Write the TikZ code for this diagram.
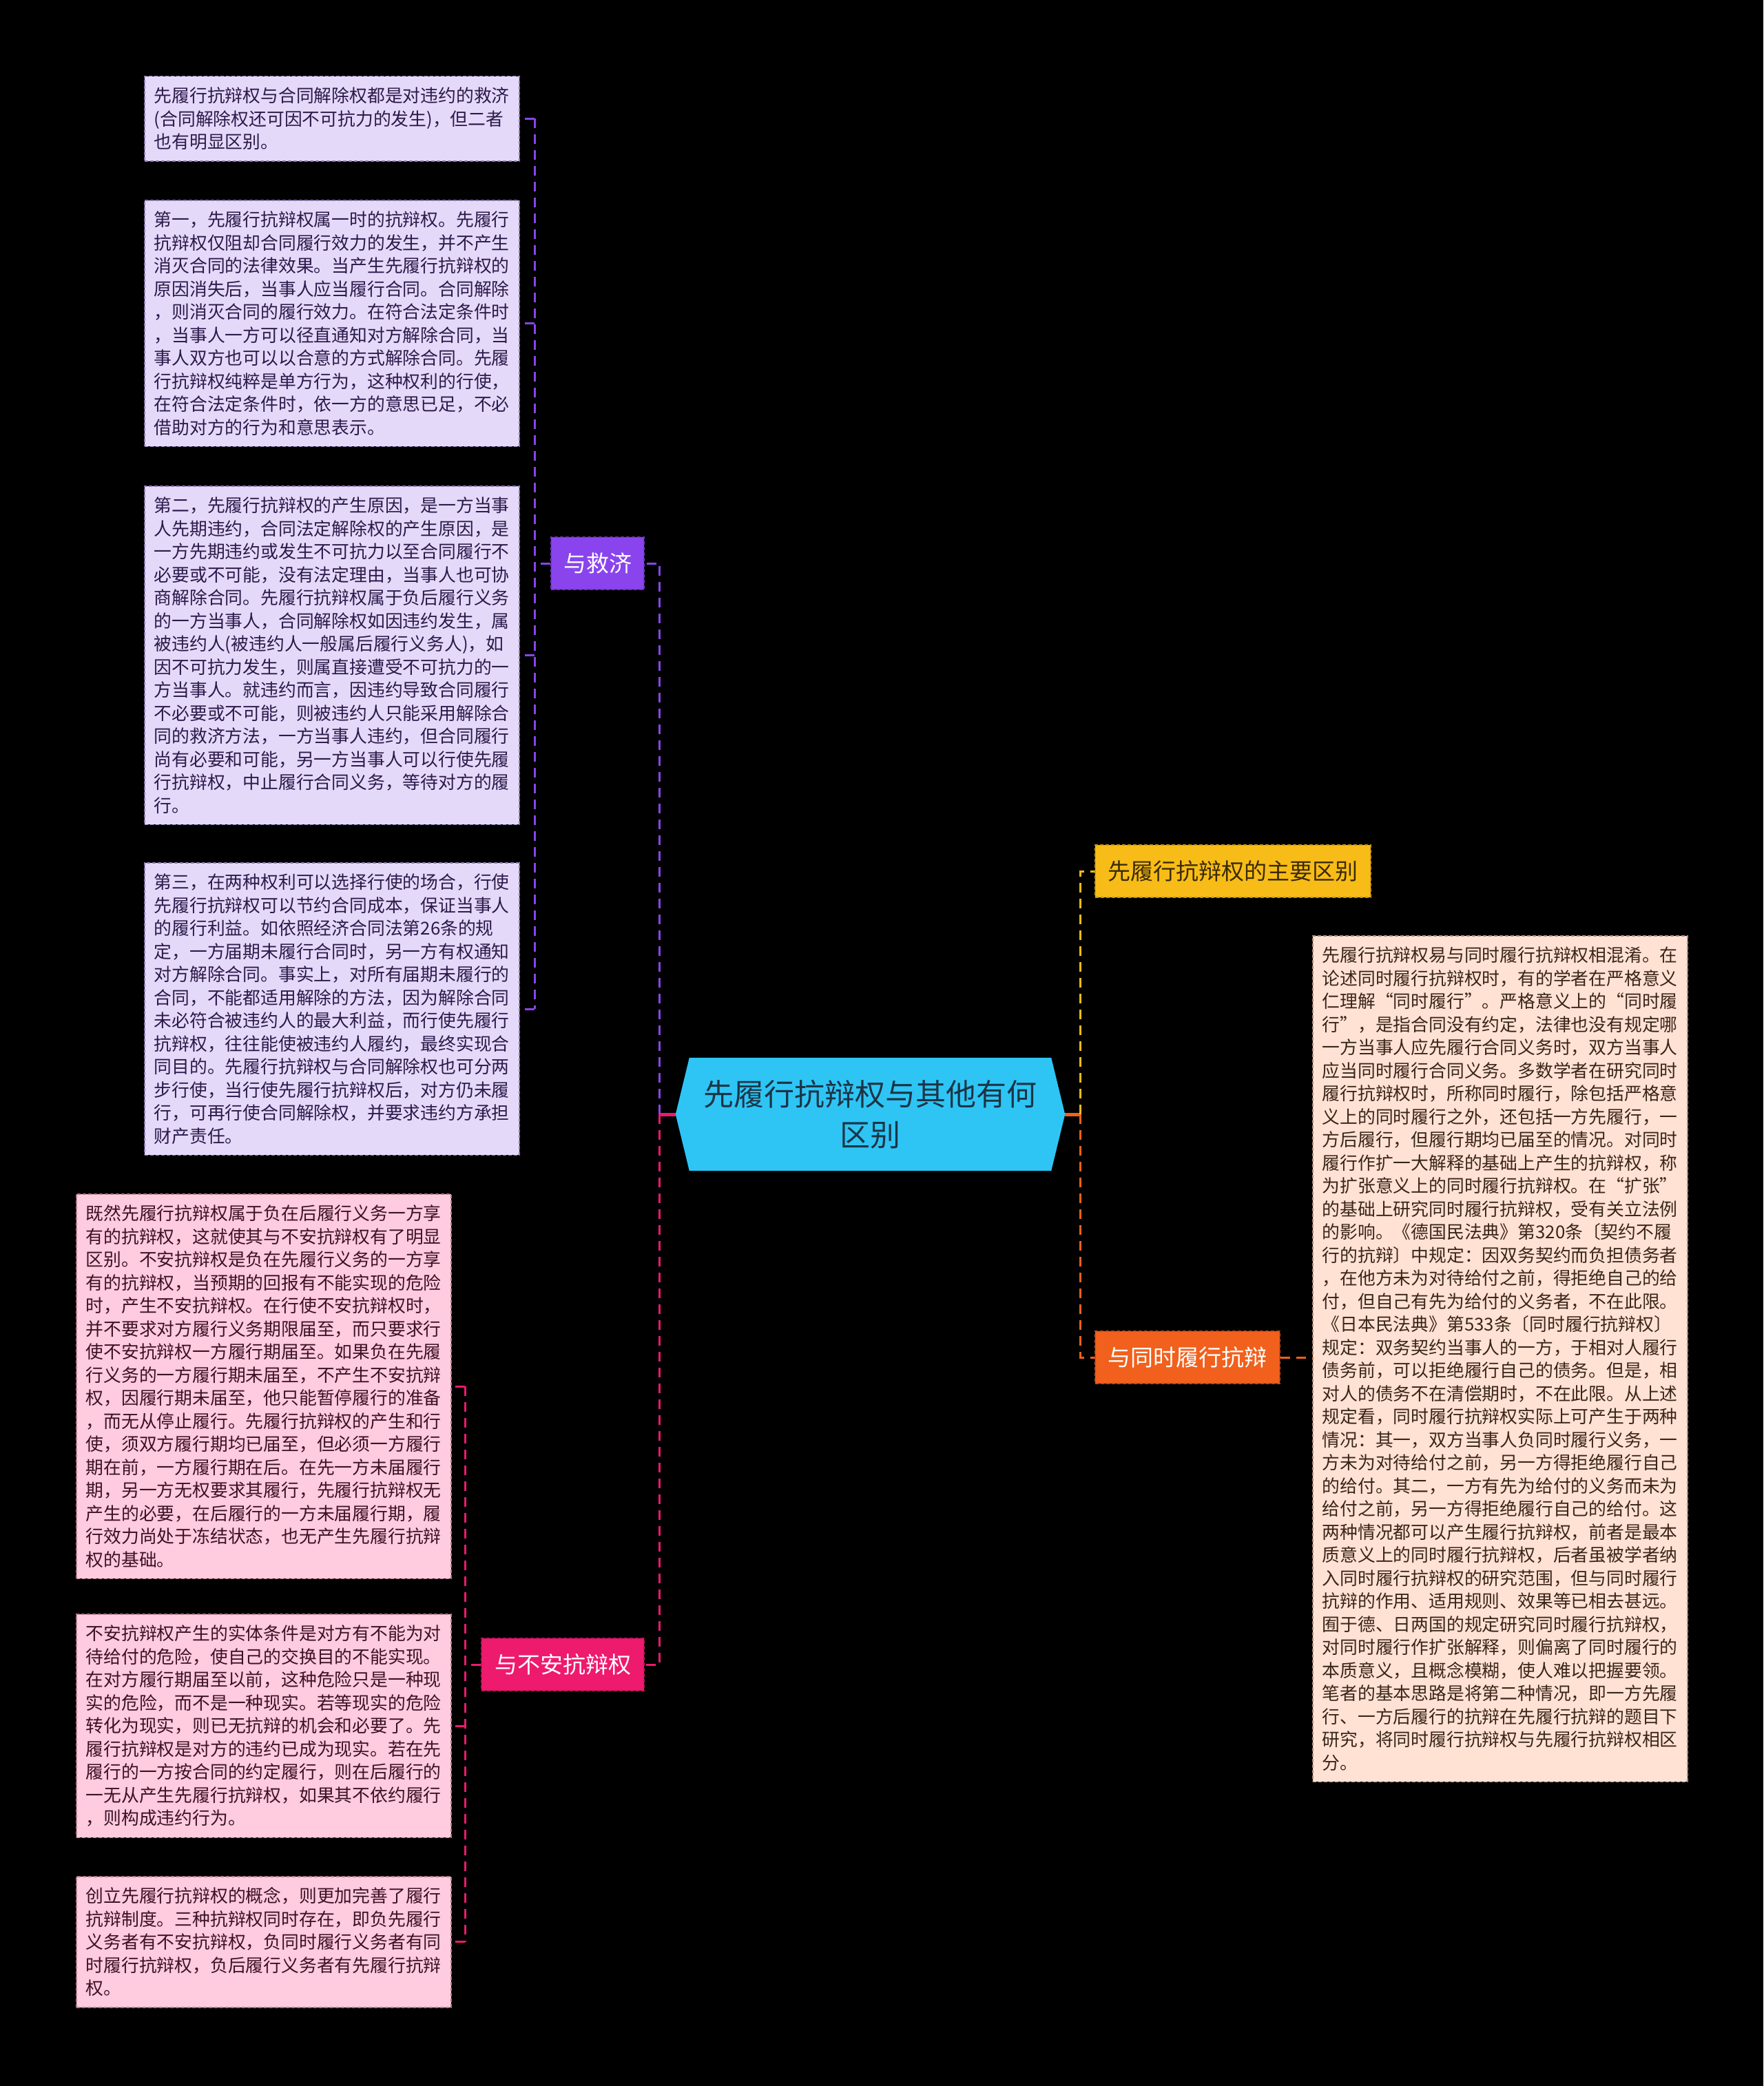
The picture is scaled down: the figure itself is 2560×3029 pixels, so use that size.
\documentclass[tikz,border=0pt]{standalone}
\usepackage{fontspec}
\setmainfont{Noto Sans CJK SC}
\pgfdeclarelayer{background}
\pgfsetlayers{background,main}
\definecolor{purp}{HTML}{8A44EE}
\definecolor{purpfill}{HTML}{E5D9FA}
\definecolor{purpedge}{HTML}{8C7AB0}
\definecolor{purptext}{HTML}{2B1A4A}
\definecolor{pinkc}{HTML}{EE1A6E}
\definecolor{pinkfill}{HTML}{FFCBDE}
\definecolor{pinkedge}{HTML}{B07A8C}
\definecolor{pinktext}{HTML}{3D1024}
\definecolor{orangec}{HTML}{F1601C}
\definecolor{peachfill}{HTML}{FFE2D4}
\definecolor{peachedge}{HTML}{B08A78}
\definecolor{peachtext}{HTML}{3A2418}
\definecolor{goldc}{HTML}{F7BC17}
\definecolor{goldtext}{HTML}{3A2A05}
\definecolor{cyanc}{HTML}{2EC5F5}
\definecolor{centertext}{HTML}{1B3546}
\begin{document}
\begin{tikzpicture}[x=1pt,y=-1pt,
  leaf/.style={rectangle, anchor=north west, text width=516pt, inner xsep=14pt, inner ysep=16pt,
    align=left, line width=1.5pt, dash pattern=on 5pt off 3pt,
    font=\fontsize{25.8}{33.5}\selectfont},
  leafp/.style={leaf, fill=purpfill, draw=purpedge, text=purptext},
  leafk/.style={leaf, fill=pinkfill, draw=pinkedge, text=pinktext},
  leafo/.style={leaf, fill=peachfill, draw=peachedge, text=peachtext},
  branch/.style={rectangle, inner xsep=18pt, inner ysep=0pt, minimum height=76pt,
    line width=1.5pt, dash pattern=on 5pt off 3pt, text=white,
    font=\fontsize{33}{40}\selectfont},
  conn/.style={line width=3pt, dash pattern=on 14pt off 9pt},
  stub/.style={line width=5pt}
]
\begin{pgfonlayer}{background}
\fill[black] (0,0) rectangle (2560,3029);
\end{pgfonlayer}
\useasboundingbox (0,0) rectangle (2560,3029);

% centre
\node[rectangle, minimum width=525pt, minimum height=164pt, inner sep=0pt, align=center,
  text=centertext, font=\fontsize{44}{59}\selectfont] (center) at (1263.5,1618)
  {先履行抗辩权与其他有何\\区别};
\begin{pgfonlayer}{background}
\fill[cyanc] (center.north west) -- (center.north east) -- ([xshift=20pt]center.east)
  -- (center.south east) -- (center.south west) -- ([xshift=-20pt]center.west) -- cycle;
\end{pgfonlayer}

% branches
\node[branch, fill=purp, draw=purp!80!black, minimum width=135pt] (jiuji) at (867.5,818) {与救济};
\node[branch, fill=pinkc, draw=pinkc!80!black, minimum width=236pt] (buan) at (817,2417) {与不安抗辩权};
\node[branch, fill=goldc, draw=goldc!80!black, text=goldtext, minimum width=400pt] (zhuyao) at (1790,1265) {先履行抗辩权的主要区别};
\node[branch, fill=orangec, draw=orangec!80!black, minimum width=268pt] (tongshi) at (1724,1971) {与同时履行抗辩};

% purple leaves
\node[leafp] (a1) at (209,110) {先履行抗辩权与合同解除权都是对违约的救济\\(合同解除权还可因不可抗力的发生)，但二者\\也有明显区别。};
\node[leafp] (a2) at (209,290) {第一，先履行抗辩权属一时的抗辩权。先履行\\抗辩权仅阻却合同履行效力的发生，并不产生\\消灭合同的法律效果。当产生先履行抗辩权的\\原因消失后，当事人应当履行合同。合同解除\\，则消灭合同的履行效力。在符合法定条件时\\，当事人一方可以径直通知对方解除合同，当\\事人双方也可以以合意的方式解除合同。先履\\行抗辩权纯粹是单方行为，这种权利的行使，\\在符合法定条件时，依一方的意思已足，不必\\借助对方的行为和意思表示。};
\node[leafp] (a3) at (209,705) {第二，先履行抗辩权的产生原因，是一方当事\\人先期违约，合同法定解除权的产生原因，是\\一方先期违约或发生不可抗力以至合同履行不\\必要或不可能，没有法定理由，当事人也可协\\商解除合同。先履行抗辩权属于负后履行义务\\的一方当事人，合同解除权如因违约发生，属\\被违约人(被违约人一般属后履行义务人)，如\\因不可抗力发生，则属直接遭受不可抗力的一\\方当事人。就违约而言，因违约导致合同履行\\不必要或不可能，则被违约人只能采用解除合\\同的救济方法，一方当事人违约，但合同履行\\尚有必要和可能，另一方当事人可以行使先履\\行抗辩权，中止履行合同义务，等待对方的履\\行。};
\node[leafp] (a4) at (209,1252) {第三，在两种权利可以选择行使的场合，行使\\先履行抗辩权可以节约合同成本，保证当事人\\的履行利益。如依照经济合同法第26条的规\\定，一方届期未履行合同时，另一方有权通知\\对方解除合同。事实上，对所有届期未履行的\\合同，不能都适用解除的方法，因为解除合同\\未必符合被违约人的最大利益，而行使先履行\\抗辩权，往往能使被违约人履约，最终实现合\\同目的。先履行抗辩权与合同解除权也可分两\\步行使，当行使先履行抗辩权后，对方仍未履\\行，可再行使合同解除权，并要求违约方承担\\财产责任。};

% pink leaves
\node[leafk] (p1) at (110,1733) {既然先履行抗辩权属于负在后履行义务一方享\\有的抗辩权，这就使其与不安抗辩权有了明显\\区别。不安抗辩权是负在先履行义务的一方享\\有的抗辩权，当预期的回报有不能实现的危险\\时，产生不安抗辩权。在行使不安抗辩权时，\\并不要求对方履行义务期限届至，而只要求行\\使不安抗辩权一方履行期届至。如果负在先履\\行义务的一方履行期未届至，不产生不安抗辩\\权，因履行期未届至，他只能暂停履行的准备\\，而无从停止履行。先履行抗辩权的产生和行\\使，须双方履行期均已届至，但必须一方履行\\期在前，一方履行期在后。在先一方未届履行\\期，另一方无权要求其履行，先履行抗辩权无\\产生的必要，在后履行的一方未届履行期，履\\行效力尚处于冻结状态，也无产生先履行抗辩\\权的基础。};
\node[leafk] (p2) at (110,2343) {不安抗辩权产生的实体条件是对方有不能为对\\待给付的危险，使自己的交换目的不能实现。\\在对方履行期届至以前，这种危险只是一种现\\实的危险，而不是一种现实。若等现实的危险\\转化为现实，则已无抗辩的机会和必要了。先\\履行抗辩权是对方的违约已成为现实。若在先\\履行的一方按合同的约定履行，则在后履行的\\一无从产生先履行抗辩权，如果其不依约履行\\，则构成违约行为。};
\node[leafk] (p3) at (110,2724) {创立先履行抗辩权的概念，则更加完善了履行\\抗辩制度。三种抗辩权同时存在，即负先履行\\义务者有不安抗辩权，负同时履行义务者有同\\时履行抗辩权，负后履行义务者有先履行抗辩\\权。};

% right leaf
\node[leafo] (rbox) at (1905,1358) {先履行抗辩权易与同时履行抗辩权相混淆。在\\论述同时履行抗辩权时，有的学者在严格意义\\仁理解“同时履行”。严格意义上的“同时履\\行”，是指合同没有约定，法律也没有规定哪\\一方当事人应先履行合同义务时，双方当事人\\应当同时履行合同义务。多数学者在研究同时\\履行抗辩权时，所称同时履行，除包括严格意\\义上的同时履行之外，还包括一方先履行，一\\方后履行，但履行期均已届至的情况。对同时\\履行作扩一大解释的基础上产生的抗辩权，称\\为扩张意义上的同时履行抗辩权。在“扩张”\\的基础上研究同时履行抗辩权，受有关立法例\\的影响。《德国民法典》第320条〔契约不履\\行的抗辩〕中规定：因双务契约而负担债务者\\，在他方未为对待给付之前，得拒绝自己的给\\付，但自己有先为给付的义务者，不在此限。\\《日本民法典》第533条〔同时履行抗辩权〕\\规定：双务契约当事人的一方，于相对人履行\\债务前，可以拒绝履行自己的债务。但是，相\\对人的债务不在清偿期时，不在此限。从上述\\规定看，同时履行抗辩权实际上可产生于两种\\情况：其一，双方当事人负同时履行义务，一\\方未为对待给付之前，另一方得拒绝履行自己\\的给付。其二，一方有先为给付的义务而未为\\给付之前，另一方得拒绝履行自己的给付。这\\两种情况都可以产生履行抗辩权，前者是最本\\质意义上的同时履行抗辩权，后者虽被学者纳\\入同时履行抗辩权的研究范围，但与同时履行\\抗辩的作用、适用规则、效果等已相去甚远。\\囿于德、日两国的规定研究同时履行抗辩权，\\对同时履行作扩张解释，则偏离了同时履行的\\本质意义，且概念模糊，使人难以把握要领。\\笔者的基本思路是将第二种情况，即一方先履\\行、一方后履行的抗辩在先履行抗辩的题目下\\研究，将同时履行抗辩权与先履行抗辩权相区\\分。};

% connectors from centre
\draw[stub, pinkc] ([xshift=-20pt]center.west) -- ++(-23,0) coordinate (lsp);
\draw[conn, purp] (lsp) |- (jiuji.east);
\draw[conn, pinkc] (lsp) |- (buan.east);
\draw[stub, orangec] ([xshift=20pt]center.east) -- ++(22,0) coordinate (rsp);
\draw[conn, goldc] (rsp) |- (zhuyao.west);
\draw[conn, orangec] (rsp) |- (tongshi.west);
\draw[conn, orangec] (tongshi.east) -- (rbox.west |- tongshi.east);

% purple sub-branches
\draw[conn, purp] (jiuji.west) -- ++(-23,0) coordinate (jsp);
\draw[conn, purp] (jsp |- a1.east) -- (jsp |- a4.east);
\foreach \b in {a1,a2,a3,a4} \draw[conn, purp] (jsp |- \b.east) -- (\b.east);

% pink sub-branches
\draw[conn, pinkc] (buan.west) -- ++(-23,0) coordinate (bsp);
\draw[conn, pinkc] (bsp |- p1.east) -- (bsp |- p3.east);
\foreach \b in {p1,p2,p3} \draw[conn, pinkc] (bsp |- \b.east) -- (\b.east);
\end{tikzpicture}
\end{document}
